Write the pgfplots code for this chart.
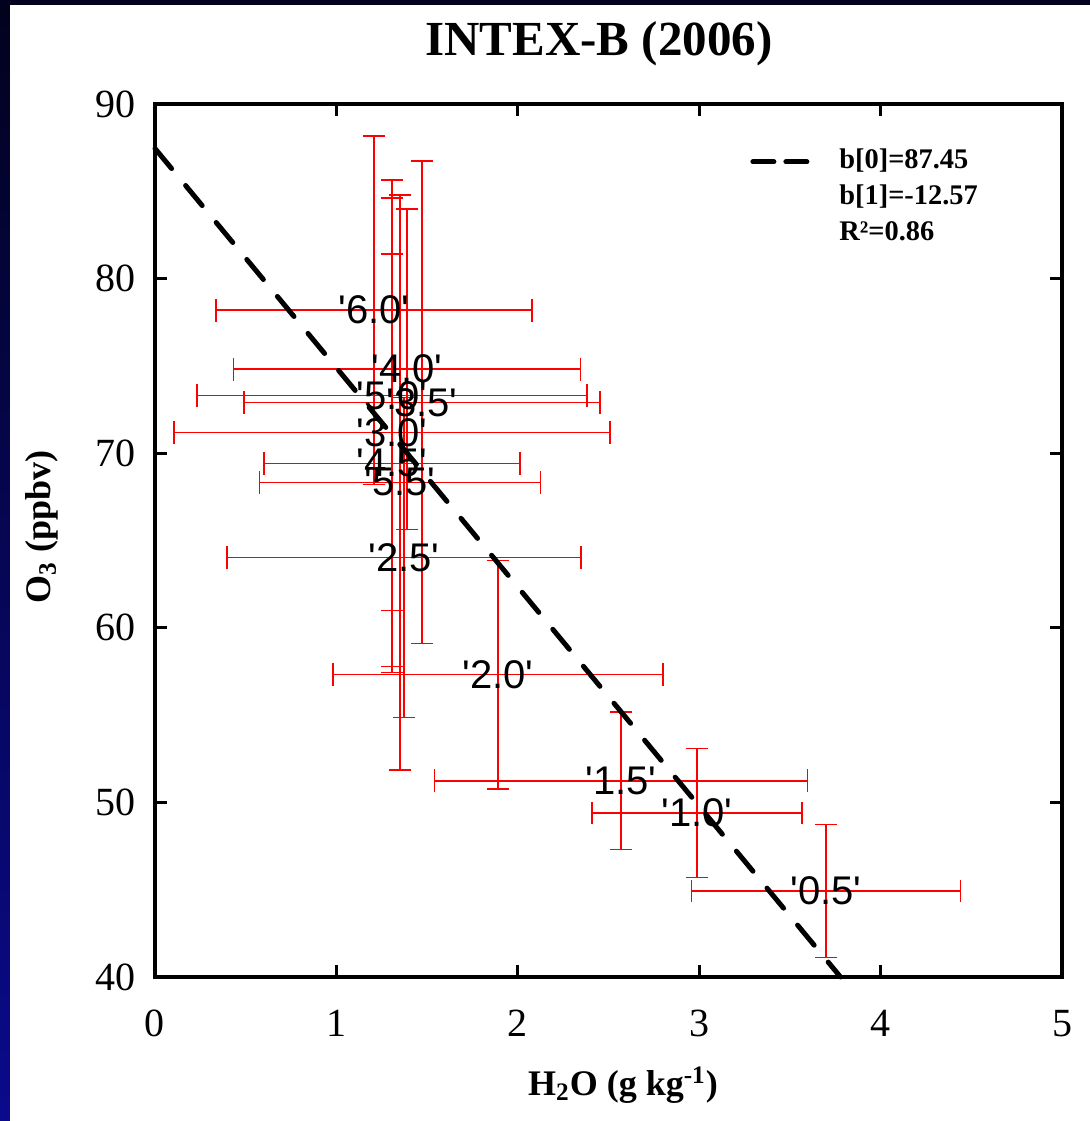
\documentclass[border=0pt]{standalone}
\usepackage{fontspec}
\setmainfont{Liberation Serif}
\newfontfamily\arial{Liberation Sans}
\usepackage{pgfplots}
\pgfplotsset{compat=1.18}
\usepackage{pgfplotstable}
\newcommand{\q}{\textquotesingle}
\pgfplotstableread{
x y ex ey label
3.699 44.93 0.741 3.81 0.5
2.988 49.40 0.579 3.70 1.0
2.569 51.24 1.028 3.93 1.5
1.891 57.32 0.910 6.54 2.0
1.373 64.03 0.976 9.17 2.5
1.307 71.19 1.202 13.42 3.0
1.472 72.91 0.981 13.82 3.5
1.389 74.81 0.956 9.17 4.0
1.307 69.42 0.706 11.98 4.5
1.307 73.31 1.075 12.33 5.0
1.351 68.33 0.775 16.46 5.5
1.207 78.19 0.871 9.98 6.0
}\datatable
\pgfplotstableread{
x y
0 87.45
3.779 40
}\fittable
\begin{document}
\begin{tikzpicture}
\useasboundingbox (-77.5bp,-72bp) rectangle (467.5bp,488.5bp);
\shade[top color={rgb,255:red,2;green,2;blue,30}, bottom color={rgb,255:red,10;green,10;blue,140}] (-77.5bp,-72bp) rectangle (467.5bp,488.5bp);
\fill[white] (-72.5bp,-72bp) rectangle (467.5bp,486bp);
\begin{axis}[
 at={(0,0)}, anchor=south west,
 scale only axis, width=453.5bp, height=436.5bp,
 xmin=0, xmax=5, ymin=40, ymax=90,
 xtick={0,1,2,3,4,5}, ytick={40,50,60,70,80,90},
 minor tick num=0,
 axis line style={line width=2bp},
 major tick style={line width=1.6bp, black},
 major tick length=6bp,
 tick align=inside,
 /pgf/number format/assume math mode=true,
 tick label style={font=\fontsize{20bp}{24bp}\selectfont},
 yticklabel style={xshift=-6bp},
 xticklabel style={yshift=-13bp},
 title={INTEX-B (2006)},
 title style={at={(axis description cs:0.4895,1.055)}, anchor=center, font=\bfseries\fontsize{24.5bp}{28bp}\selectfont},
 xlabel={H\textsubscript{2}O (g kg\textsuperscript{-1})},
 ylabel={O\textsubscript{3} (ppbv)},
 xlabel style={at={(axis description cs:0.516,-0.1237)}, anchor=center, font=\bfseries\fontsize{18bp}{22bp}\selectfont},
 ylabel style={at={(axis description cs:-0.1246,0.5155)}, anchor=center, font=\bfseries\fontsize{18bp}{22bp}\selectfont},
 legend style={draw=none, fill=none, at={(0.656,0.953)}, anchor=north west, inner sep=0pt,
   font=\bfseries\fontsize{14.2bp}{17bp}\selectfont,
   nodes={inner sep=1.5bp, text height=10bp, text depth=3.5bp}, row sep=1.5bp, column sep=13bp},
 legend cell align=left,
 legend image code/.code={\draw[#1, dash pattern=on 10.5bp off 6bp] (0bp,0bp) -- (27.5bp,0bp);},
 clip=false,
]
\addplot[red, only marks, mark=*, mark size=0pt, mark options={draw=none, fill=none}, forget plot,
  error bars/.cd, x dir=both, x explicit, y dir=both, y explicit,
  error bar style={line width=0.75bp, red},
  error mark options={rotate=90, red, mark size=5.65bp, line width=0.75bp}]
  table[x=x, y=y, x error=ex, y error=ey] {\datatable};
\addplot[black, line width=2.5bp, line cap=round, dash pattern=on 13bp off 11bp]
  table[x=x, y=y] {\fittable};
\addlegendentry{b[0]=87.45}
\addlegendimage{empty legend}
\addlegendentry{b[1]=-12.57}
\addlegendimage{empty legend}
\addlegendentry{R²=0.86}
\addplot[only marks, mark=*, mark size=0pt, mark options={draw=none, fill=none}, forget plot,
  point meta=explicit symbolic,
  nodes near coords={\q\pgfplotspointmeta\q},
  nodes near coords style={anchor=center, font=\arial\fontsize{20bp}{24bp}\selectfont, black, inner sep=0pt}]
  table[x=x, y=y, meta=label] {\datatable};
\end{axis}
\end{tikzpicture}
\end{document}
